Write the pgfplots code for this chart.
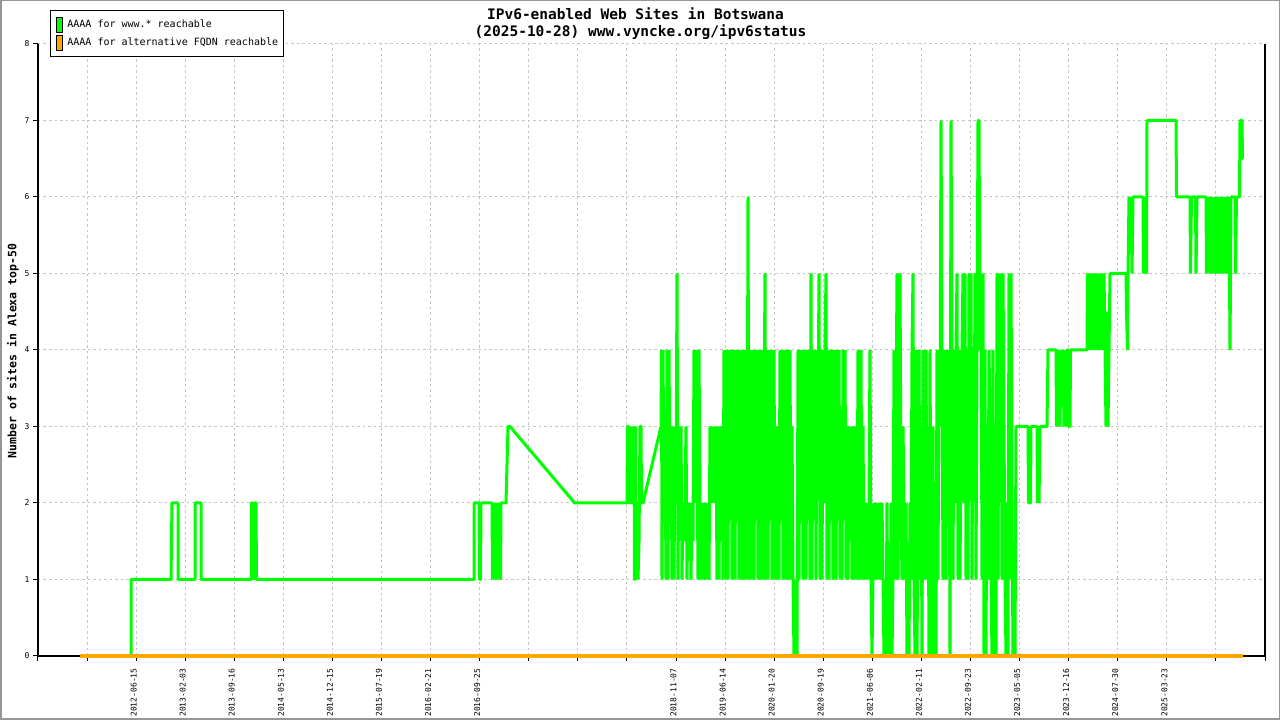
\documentclass[border=0pt]{standalone}
\usepackage{fontspec}
\setmainfont{DejaVu Sans Mono}
\usepackage{pgfplots}
\usepackage{pgfplotstable}
\pgfplotsset{compat=1.18}
\definecolor{lgreen}{RGB}{0,255,0}
\definecolor{lorange}{RGB}{255,165,0}
\definecolor{gridgray}{RGB}{195,195,195}
\definecolor{framegray}{RGB}{150,150,150}

\pgfplotstableread{
x y
80 0
131 0
131 1
171 1
171.5 1.5
172 2
178 2
178 1
195 1
195 2
201 2
201 1
251.5 1
251.5 2
252.5 2
252.5 1.5
253.5 2
254.5 1
255 2
256 2
256.5 1
474 1
474 2
479 2
479.5 1
480.5 1
481 2
492 2
492.5 1
493.5 2
494.5 1
495.5 2
496.5 1
497.5 2
498.5 1
499.5 2
500.5 1
501 2
506 2
507 2.5
508 3
510 3
574.7 2
627 2
627.5 3
628.5 3
629 2
630 2
630.5 3
631 2
633.5 2
634 3
634.5 1
635 1
635.5 3
636 1
637 2
638 1
639 1.5
640 3
641 3
641.5 2
643 2
661 3
661.5 4
662 1
663 4
664 2
665 3
666 1
667 4
668 1
669 4
670 2
671 3
672 1
673 3
674 1
675 3
676 2
677 5
678 1
679 3
680 2
681 3
682 1
683 2
684 1.5
685 2
686 3
687 1
688 2
689 1.5
690 2
691 1
692 2
693 1.5
694 4
695 2
696 4
697 3
698 1
699 4
700 2
701 1
702 2
703 1
704 2
705 1
706 2
707 1
708 2
709 1
710 3
711 2
712 3
713 2
714 3
715 2
716 3
717 1
718 3
719 1
720 3
721 2
722 3
723 1
724 4
725 1
726 3
727 4
728 1
729 4
730 2
731 4
732 1
733 3
734 4
735 1
736 4
737 2
738 4
739 1
740 3
741 4
742 1
743 4
744 1
745 3
746 4
747 1
748 6
749 1
750 4
751 1
752 3
753 4
754 1
755 4
756 2
757 4
758 1
759 4
760 3
761 1
762 4
763 1
764 3
765 5
766 1
767 4
768 1
769 4
770 2
771 4
772 1
773 3
774 4
775 1
776 3
777 1
778 3
779 1
780 4
781 2
782 4
783 1
784 3
785 4
786 1
787 4
788 1
789 3
790 4
791 1
792 3
793 1
794 0
795 0
796 1
797 0
798 4
799 1
800 4
801 2
802 4
803 1
804 3
805 4
806 1
807 4
808 2
809 4
810 1
811 5
812 1
813 4
814 2
815 4
816 1
817 4
818 3
819 5
820 1
821 4
822 1
823 4
824 2
825 4
826 5
827 1
828 4
829 1
830 4
831 2
832 4
833 1
834 3
835 4
836 1
837 4
838 2
839 4
840 1
841 3
842 1
843 4
844 2
845 4
846 1
847 3
848 1
849 3
850 2
851 3
852 1
853 3
854 1
855 2
856 3
857 1
858 4
859 1
860 3
861 4
862 1
863 3
864 1
865 2
866 1
867 2
868 1
869 2
870 4
871 1
872 0
873 1
874 2
875 1
876 2
877 1
878 2
879 1
880 2
881 1
882 2
883 1
884 0
885 1
886 0
887 2
888 0
889 1
890 0
891 2
892 0
893 1
894 4
895 1
896 3
897 5
898 1
899 4
900 5
901 2
902 1
903 3
904 2
905 1
906 2
907 0
908 1
909 0
910 2
911 1
912 4
913 5
914 1
915 0
916 4
917 0
918 2
919 4
920 1
921 3
922 0
923 4
924 1
925 2
926 4
927 1
928 3
929 0
930 4
931 1
932 0
933 3
934 0
935 2
936 0
937 4
938 1
939 4
940 3
941 7
942 4
943 1
944 3
945 4
946 1
947 4
948 2
949 4
950 0
951 7
952 4
953 1
954 4
955 2
956 4
957 5
958 1
959 4
960 1
961 3
962 4
963 5
964 2
965 5
966 1
967 4
968 1
969 5
970 3
971 5
972 1
973 4
974 2
975 5
976 1
977 4
978 7
979 7
980 4
981 5
982 1
983 5
984 0
985 4
986 0
987 3
988 1
989 4
990 3
991 1
992 0
993 4
994 0
995 3
996 0
997 5
998 1
999 5
1000 2
1001 5
1002 1
1003 5
1004 3
1005 1
1006 0
1007 2
1008 0
1009 5
1010 1
1011 5
1012 2
1013 0
1014 1
1015 0
1016 3
1028 3
1028.5 2
1030.5 2
1031 3
1037 3
1037.5 2
1038.5 3
1039 2
1040 3
1047 3
1048 4
1056 4
1056.5 3
1057.5 4
1058 3
1059 4
1060 3
1061 4
1062 3.5
1063 4
1064 3
1065 4
1066 3
1067 4
1068 4
1068.5 3
1070 3
1070.5 4
1087 4
1087.5 5
1088 4.5
1089 5
1090 4
1091 5
1092 4
1093 5
1094 4
1095 5
1096 4
1097 5
1098 4.5
1099 4
1100 5
1101 4
1102 5
1103 4
1104 5
1105 4
1106 3
1107 4.5
1108 3
1109 4
1110 5
1126 5
1126.5 4.5
1127.5 4
1128 5
1129 6
1130 5.5
1131 6
1132 5
1133 6
1143 6
1143.5 5
1144.5 6
1146.5 5
1147 7
1176 7
1176.5 6
1190 6
1190.5 5
1191.5 6
1195.5 6
1196 5
1197 6
1206 6
1206.5 5
1207.5 6
1208 5.5
1209 6
1210 5
1211 6
1212 5
1213 6
1214 5
1215 6
1216 5
1217 6
1218 5
1219 6
1220 5
1221 6
1222 5
1223 6
1224 5
1225 6
1226 5
1227 6
1228 5
1229 6
1230 4
1231 6
1235 6
1235.5 5
1236.5 6
1239.5 6
1240 7
1242 7
1242.5 6.5
1243 6.5
}\greendata

\pgfplotstableread{
x y
80 0
1243 0
}\orangedata

\begin{document}
\begin{tikzpicture}[x=1pt,y=1pt]
\useasboundingbox (0,0) rectangle (1280,720);
\fill[white] (0,0) rectangle (1280,720);
\draw[framegray, line width=1.5pt] (0.75,0.75) rectangle (1279.25,719.25);
\begin{axis}[
  at={(38pt,64pt)}, anchor=south west,
  scale only axis, width=1227pt, height=612pt,
  xmin=38, xmax=1265, ymin=0, ymax=8,
  axis lines=left,
  axis line style={-, line width=1.2pt, black},
  clip=false,
  tick align=outside,
  major tick length=5pt,
  tick style={black, line width=1pt},
  xtick={38,87.08,136.16,185.24,234.32,283.4,332.48,381.56,430.64,479.72,528.8,577.88,626.96,676.04,725.12,774.2,823.28,872.36,921.44,970.52,1019.6,1068.68,1117.76,1166.84,1215.92,1265},
  xticklabels={,,2012-06-15,2013-02-03,2013-09-16,2014-05-13,2014-12-15,2015-07-19,2016-02-21,2016-09-25,,,,2018-11-07,2019-06-14,2020-01-20,2020-09-19,2021-06-06,2022-02-11,2022-09-23,2023-05-05,2023-12-16,2024-07-30,2025-03-23,,},
  ytick={0,1,2,3,4,5,6,7,8},
  /pgf/number format/assume math mode=true,
  xticklabel shift=4pt,
  xticklabel style={xshift=-2.5pt, rotate=90, anchor=east, font=\fontsize{8}{9}\selectfont},
  yticklabel style={font=\fontsize{8}{9}\selectfont},
  xmajorgrids, ymajorgrids,
  grid style={gridgray, line width=1pt, dash pattern=on 2.5pt off 3pt},
  legend style={at={(0.00978,1.0551)}, anchor=north west, draw=black, line width=1.2pt,
    font=\fontsize{10}{12}\selectfont, cells={anchor=west},
    nodes={inner sep=0pt},
    inner xsep=5.5pt, inner ysep=6pt, row sep=2pt, column sep=4.5pt},
]
\addplot[lgreen, line width=3pt, line join=bevel,
  legend image code/.code={\draw[fill=lgreen, draw=black, line width=0.8pt] (0pt,-7.5pt) rectangle (6pt,7.5pt);}]
  table[x=x, y=y] {\greendata};
\addlegendentry{AAAA for www.* reachable}
\addplot[lorange, line width=3.5pt,
  legend image code/.code={\draw[fill=lorange, draw=black, line width=0.8pt] (0pt,-7.5pt) rectangle (6pt,7.5pt);}]
  table[x=x, y=y] {\orangedata};
\addlegendentry{AAAA for alternative FQDN reachable}
\draw[black, line width=1.2pt] (rel axis cs:1,0) -- (rel axis cs:1,1);
\end{axis}
\node[font=\bfseries\fontsize{14.5}{16}\selectfont] at (635.5,706) {IPv6-enabled Web Sites in Botswana};
\node[font=\bfseries\fontsize{14.5}{16}\selectfont] at (640.5,688) {(2025-10-28) www.vyncke.org/ipv6status};
\node[rotate=90, font=\bfseries\fontsize{11.5}{13}\selectfont] at (13,369) {Number of sites in Alexa top-50};
\end{tikzpicture}
\end{document}
